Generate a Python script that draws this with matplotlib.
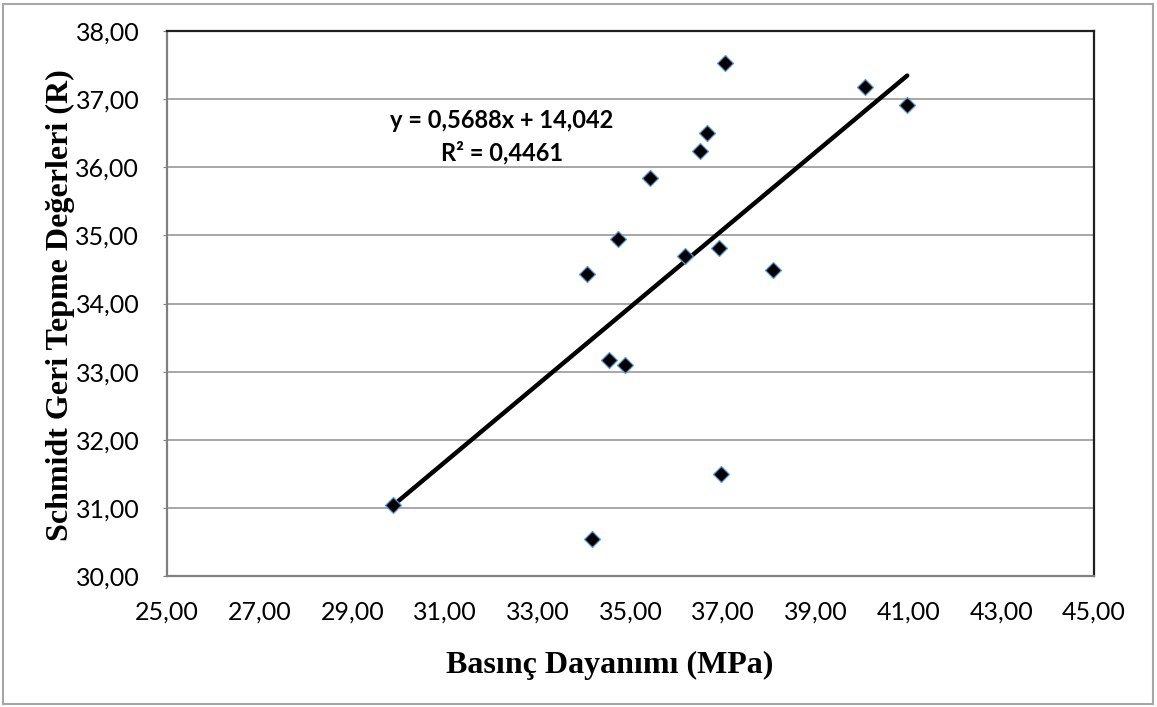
import matplotlib
matplotlib.use('Agg')
import matplotlib.pyplot as plt
import numpy as np
from matplotlib.patches import Rectangle
from matplotlib.ticker import FuncFormatter

# values
basinc = [29.88, 34.16, 34.06, 34.54, 34.88, 34.72, 35.41, 36.17,
          36.51, 36.64, 36.90, 36.95, 37.03, 38.07, 40.07, 40.97]
schmidt = [31.04, 30.54, 34.43, 33.17, 33.09, 34.95, 35.84, 34.70,
           36.24, 36.51, 34.82, 31.49, 37.53, 34.49, 37.18, 36.91]

slope = 0.5688
intercept = 14.042
r2 = 0.4461

x_ticks = [25, 27, 29, 31, 33, 35, 37, 39, 41, 43, 45]
y_ticks = [30, 31, 32, 33, 34, 35, 36, 37, 38]

x_label = 'Basınç Dayanımı (MPa)'
y_label = 'Schmidt Geri Tepme Değerleri (R)'

tick_font = 'Lato'
title_font = 'Liberation Serif'

fig = plt.figure(figsize=(11.57, 7.07), dpi=100)
ax = fig.add_axes([167 / 1157, 1 - 576 / 707, (1094 - 167) / 1157, (576 - 31) / 707])

# outer chart frame
fig.patches.append(Rectangle((3 / 1157, 3 / 707), 1150 / 1157, 700 / 707,
                             transform=fig.transFigure, fill=False,
                             edgecolor='#a6a6a6', linewidth=1.5))

ax.set_xlim(25, 45)
ax.set_ylim(30, 38)
ax.set_xticks(x_ticks)
ax.set_yticks(y_ticks)
fmt = FuncFormatter(lambda v, pos: f'{v:.2f}'.replace('.', ','))
ax.xaxis.set_major_formatter(fmt)
ax.yaxis.set_major_formatter(fmt)

ax.grid(axis='y', color='#a0a0a0', linewidth=1.3)
ax.set_axisbelow(True)

for side in ['top', 'right']:
    ax.spines[side].set_color('#202020')
    ax.spines[side].set_linewidth(1.6)
for side in ['left', 'bottom']:
    ax.spines[side].set_color('#808080')
    ax.spines[side].set_linewidth(1.6)

ax.tick_params(axis='x', length=0, pad=18, labelsize=18)
ax.tick_params(axis='y', length=3, color='#808080', pad=17, labelsize=18)
for lbl in ax.get_xticklabels() + ax.get_yticklabels():
    lbl.set_family(tick_font)

# trend line over the data range
xs = np.array([min(basinc), max(basinc)])
ax.plot(xs, slope * xs + intercept, color='black', linewidth=3.2,
        solid_capstyle='round', zorder=2)

ax.plot(basinc, schmidt, linestyle='none', marker='D', markersize=8.5,
        markerfacecolor='black', markeredgecolor='#5b9bd5',
        markeredgewidth=0.9, zorder=3)

ax.text(32.23, 36.69, 'y = 0,5688x + 14,042', ha='center', va='center',
        fontsize=17, fontweight='bold', family=tick_font)
ax.text(32.23, 36.22, f'R² = {r2}'.replace('.', ','), ha='center', va='center',
        fontsize=17, fontweight='bold', family=tick_font)

fig.text(610 / 1157, 1 - 665 / 707, x_label, ha='center', va='center',
         fontsize=23, fontweight='bold', family=title_font)
fig.text(60 / 1157, 1 - 305 / 707, y_label, ha='center', va='center',
         rotation=90, fontsize=23, fontweight='bold', family=title_font)

fig.savefig('out.png', dpi=100)
